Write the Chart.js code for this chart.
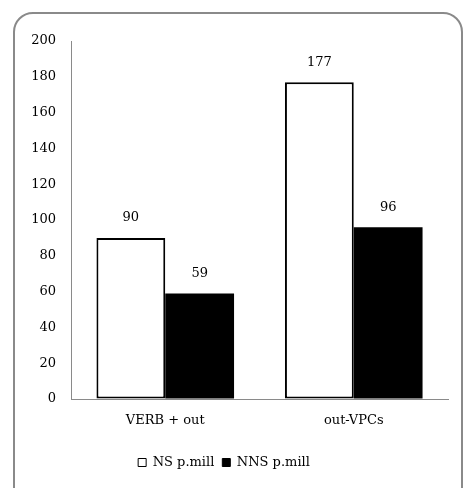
<!DOCTYPE html>
<html lang="en">
<head>
  <meta charset="UTF-8">
  <title>NS vs NNS p.mill</title>
  <script src="https://cdn.jsdelivr.net/npm/chart.js"></script>
  <style>
    body {
      margin: 0;
      background: #fff;
      overflow: hidden;
    }
    .frame {
      position: absolute;
      left: 13px;
      top: 12px;
      width: 446px;
      height: 500px;
      border: 2px solid #8a8a8a;
      border-radius: 20px;
    }
    .wrap {
      position: absolute;
      left: 0;
      top: 0;
      width: 465px;
      height: 488px;
    }
  </style>
</head>
<body>
<div class="frame"></div>
<div class="wrap">
  <canvas id="chart" width="465" height="488"></canvas>
</div>

<script>
  const categories = ['VERB + out', 'out-VPCs'];
  const nsValues = [90, 177];
  const nnsValues = [59, 96];
  const yTicks = [0, 20, 40, 60, 80, 100, 120, 140, 160, 180, 200];

  const serif = "'DejaVu Serif', 'Liberation Serif', serif";

  // value labels above each bar
  const barLabels = {
    id: 'barLabels',
    afterDatasetsDraw(chart) {
      const ctx = chart.ctx;
      ctx.save();
      ctx.font = '13px ' + serif;
      ctx.fillStyle = '#000';
      ctx.textAlign = 'center';
      ctx.textBaseline = 'middle';
      chart.data.datasets.forEach((ds, i) => {
        chart.getDatasetMeta(i).data.forEach((bar, j) => {
          ctx.fillText(ds.data[j], bar.x, bar.y - 20);
        });
      });
      ctx.restore();
    }
  };

  new Chart(document.getElementById('chart'), {
    type: 'bar',
    data: {
      labels: categories,
      datasets: [
        {
          label: 'NS p.mill',
          data: nsValues,
          backgroundColor: '#ffffff',
          borderColor: '#000000',
          borderWidth: 2,
          borderSkipped: false
        },
        {
          label: 'NNS p.mill',
          data: nnsValues,
          backgroundColor: '#000000',
          borderColor: '#000000',
          borderWidth: 0
        }
      ]
    },
    options: {
      responsive: false,
      animation: false,
      layout: { padding: { top: 41, right: 17, bottom: 9, left: 0 } },
      datasets: {
        bar: { categoryPercentage: 0.73, barPercentage: 1.0 }
      },
      scales: {
        x: {
          grid: { color: 'transparent', drawTicks: false },
          border: { display: true, color: '#8a8a8a', width: 1 },
          ticks: { color: '#000', font: { family: serif, size: 13 }, padding: 14 },
          afterFit(scale) { scale.height = 49; }
        },
        y: {
          min: 0,
          max: 200,
          afterBuildTicks(scale) { scale.ticks = yTicks.map(v => ({ value: v })); },
          grid: { color: 'transparent', drawTicks: false },
          border: { display: true, color: '#8a8a8a', width: 1 },
          ticks: { color: '#000', font: { family: serif, size: 13 }, padding: 15 },
          afterFit(scale) { scale.width = 71; }
        }
      },
      plugins: {
        legend: {
          position: 'bottom',
          labels: {
            color: '#000',
            font: { family: serif, size: 13 },
            boxWidth: 8,
            boxHeight: 8,
            padding: 8,
            generateLabels(chart) {
              return chart.data.datasets.map((ds, i) => ({
                text: ds.label,
                fillStyle: ds.backgroundColor,
                strokeStyle: '#000',
                lineWidth: 1,
                datasetIndex: i
              }));
            }
          }
        },
        tooltip: { enabled: false }
      }
    },
    plugins: [barLabels]
  });
</script>
</body>
</html>
